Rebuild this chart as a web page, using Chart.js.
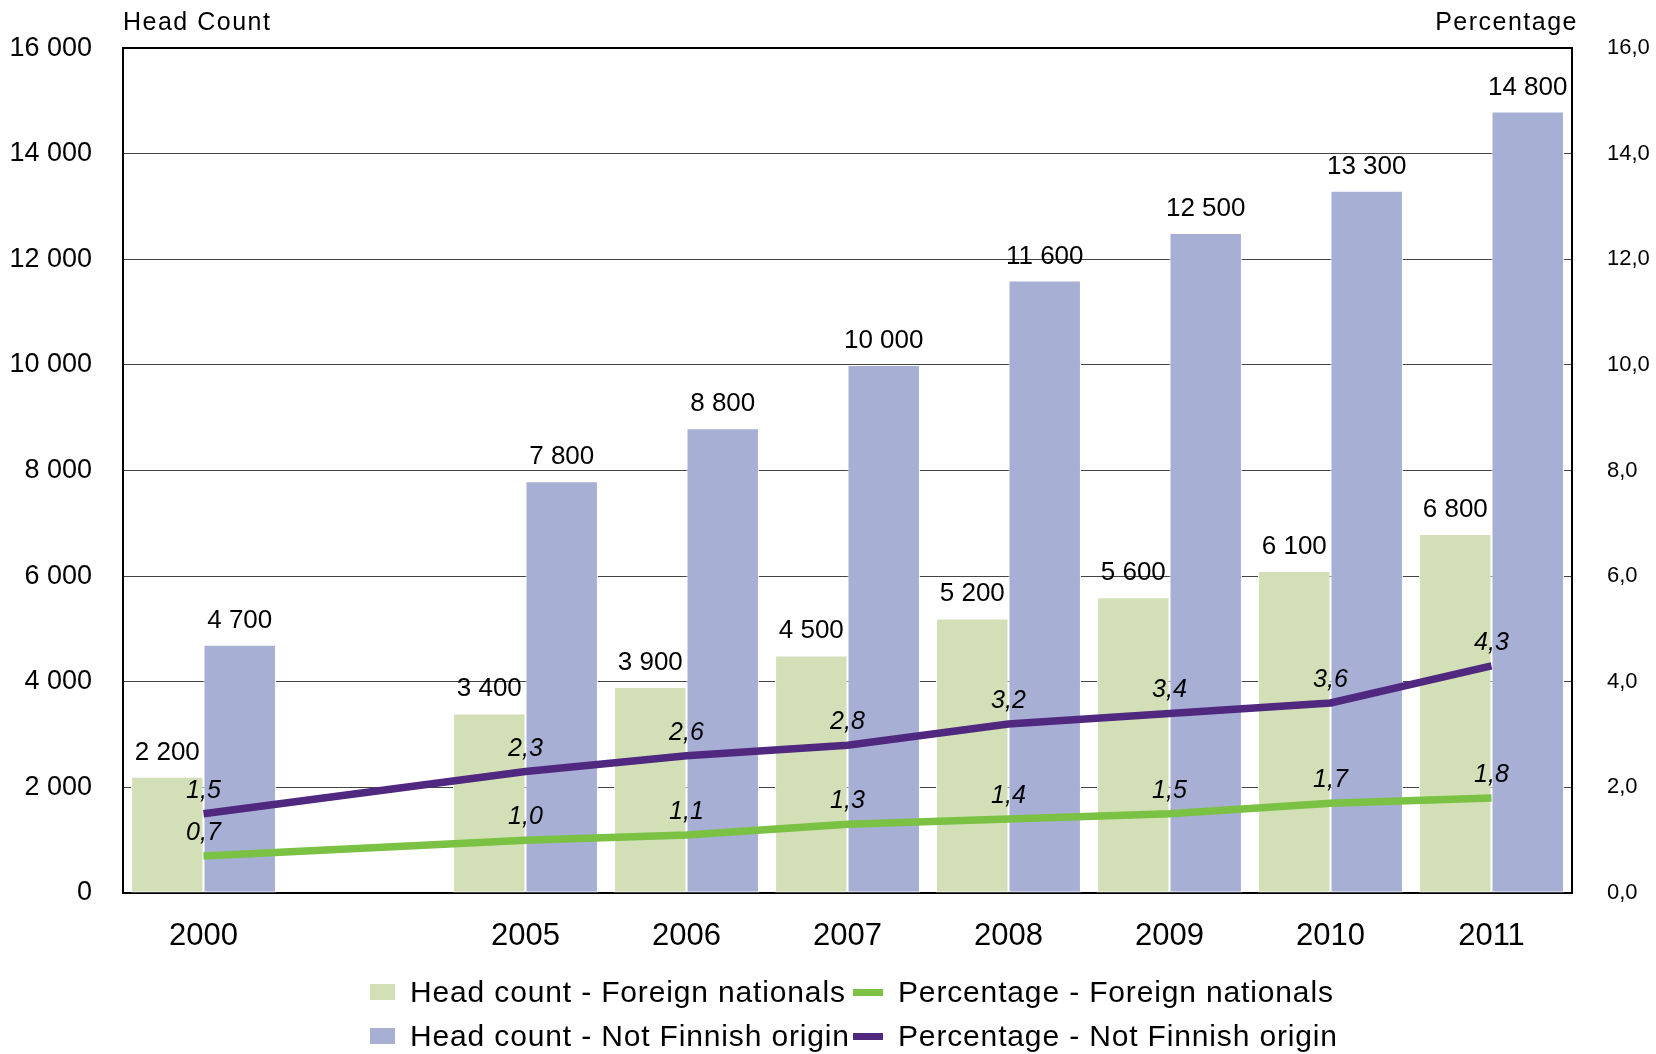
<!DOCTYPE html>
<html>
<head>
<meta charset="utf-8">
<title>Head count and percentage</title>
<script src="https://cdn.jsdelivr.net/npm/chart.js@4.4.1/dist/chart.umd.min.js"></script>
<style>
    body { margin: 0; background: #fff; font-family: "Liberation Sans", Arial, sans-serif; }
    #wrap { position: relative; width: 1656px; height: 1054px; }
    .axis-title { position: absolute; top: 9px; font-size: 25px; line-height: 1; letter-spacing: 1.5px; color: #000; }
    .legend-row { position: absolute; left: 370px; display: flex; align-items: center; height: 30px; font-size: 30px; line-height: 1; letter-spacing: 0.85px; color: #000; }
    .legend-row .box { width: 25px; height: 16px; margin-right: 15px; }
    .legend-row .mark { width: 30px; height: 7px; margin-right: 15px; }
    .legend-row .txt1 { width: 443px; white-space: nowrap; }
    .legend-row .txt2 { white-space: nowrap; }
</style>
</head>
<body>
<div id="wrap">
    <canvas id="chart"></canvas>
    <div class="axis-title" style="left:123px">Head Count</div>
    <div class="axis-title" style="right:78px">Percentage</div>
    <div class="legend-row" style="top:977px">
        <span class="box" style="background:#D3E0B7"></span><span class="txt1">Head count - Foreign nationals</span>
        <span class="mark" style="background:#7BC143"></span><span class="txt2">Percentage - Foreign nationals</span>
    </div>
    <div class="legend-row" style="top:1021px">
        <span class="box" style="background:#A7AFD5"></span><span class="txt1">Head count - Not Finnish origin</span>
        <span class="mark" style="background:#51287F"></span><span class="txt2">Percentage - Not Finnish origin</span>
    </div>
</div>
<script>
// years 2001-2004 are missing, so one empty slot stands between 2000 and 2005
const years = ["2000", "", "2005", "2006", "2007", "2008", "2009", "2010", "2011"];
const countForeign = [2200, null, 3400, 3900, 4500, 5200, 5600, 6100, 6800];
const countNotFinnish = [4700, null, 7800, 8800, 10000, 11600, 12500, 13300, 14800];
const pctForeign = [0.7, null, 1.0, 1.1, 1.3, 1.4, 1.5, 1.7, 1.8];
const pctNotFinnish = [1.5, null, 2.3, 2.6, 2.8, 3.2, 3.4, 3.6, 4.3];

const FONT = '"Liberation Sans", Arial, sans-serif';

function fmtCount(v) {
    return String(v).replace(/\B(?=(\d{3})+(?!\d))/g, " ");
}

function fmtPct(v) {
    return v.toFixed(1).replace(".", ",");
}

// numbers above bars and line points
const valueLabels = {
    id: "valueLabels",
    afterDatasetsDraw(chart) {
        const ctx = chart.ctx;
        ctx.save();
        ctx.textAlign = "center";
        ctx.textBaseline = "alphabetic";
        ctx.fillStyle = "#000";
        chart.data.datasets.forEach((ds, i) => {
            const meta = chart.getDatasetMeta(i);
            const isBar = ds.type === "bar";
            ctx.font = isBar ? "26px " + FONT : "italic 25px " + FONT;
            meta.data.forEach((el, j) => {
                const v = ds.data[j];
                if (v == null) return;
                ctx.fillText(isBar ? fmtCount(v) : fmtPct(v), el.x, el.y - (isBar ? 17 : 16));
            });
        });
        ctx.restore();
    },
};

const ctx = document.getElementById("chart").getContext("2d");
new Chart(ctx, {
    type: "bar",
    data: {
        labels: years,
        datasets: [
            {
                type: "bar",
                label: "Head count - Foreign nationals",
                data: countForeign,
                backgroundColor: "#D3E0B7",
                borderColor: "#fff",
                borderWidth: 1,
                borderSkipped: false,
                barPercentage: 1.0,
                categoryPercentage: 0.9,
                yAxisID: "y",
                order: 2,
            },
            {
                type: "bar",
                label: "Head count - Not Finnish origin",
                data: countNotFinnish,
                backgroundColor: "#A7AFD5",
                borderColor: "#fff",
                borderWidth: 1,
                borderSkipped: false,
                barPercentage: 1.0,
                categoryPercentage: 0.9,
                yAxisID: "y",
                order: 2,
            },
            {
                type: "line",
                label: "Percentage - Foreign nationals",
                data: pctForeign,
                borderColor: "#7BC143",
                backgroundColor: "#7BC143",
                borderWidth: 7.5,
                pointRadius: 0,
                tension: 0,
                spanGaps: true,
                fill: false,
                borderCapStyle: "butt",
                yAxisID: "y1",
                order: 1,
            },
            {
                type: "line",
                label: "Percentage - Not Finnish origin",
                data: pctNotFinnish,
                borderColor: "#51287F",
                backgroundColor: "#51287F",
                borderWidth: 7.5,
                pointRadius: 0,
                tension: 0,
                spanGaps: true,
                fill: false,
                borderCapStyle: "butt",
                yAxisID: "y1",
                order: 1,
            },
        ],
    },
    options: {
        responsive: true,
        maintainAspectRatio: false,
        animation: false,
        layout: {
            padding: { top: 47, left: 0, right: 0, bottom: 101 },
        },
        plugins: {
            legend: { display: false },
            tooltip: { enabled: false },
        },
        scales: {
            x: {
                afterFit: (s) => { s.height = 60; },
                grid: { display: false },
                border: { color: "#000", width: 2 },
                ticks: {
                    color: "#000",
                    padding: 17,
                    font: { family: FONT, size: 31 },
                    maxRotation: 0,
                    autoSkip: false,
                },
            },
            y: {
                position: "left",
                min: 0,
                max: 16000,
                afterFit: (s) => { s.width = 123; },
                border: { color: "#000", width: 2 },
                grid: {
                    drawTicks: false,
                    color: (c) => (c.tick && c.tick.value === 16000 ? "#000" : "#444"),
                    lineWidth: (c) => (c.tick && c.tick.value === 16000 ? 2 : 1),
                },
                ticks: {
                    stepSize: 2000,
                    color: "#000",
                    padding: 31,
                    font: { family: FONT, size: 27 },
                    callback: (v) => fmtCount(v),
                },
            },
            y1: {
                position: "right",
                min: 0,
                max: 16,
                afterFit: (s) => { s.width = 84; },
                border: { color: "#000", width: 2 },
                grid: { display: false, drawTicks: false },
                ticks: {
                    stepSize: 2,
                    color: "#000",
                    padding: 35,
                    font: { family: FONT, size: 22 },
                    callback: (v) => fmtPct(v),
                },
            },
        },
    },
    plugins: [valueLabels],
});
</script>
</body>
</html>
